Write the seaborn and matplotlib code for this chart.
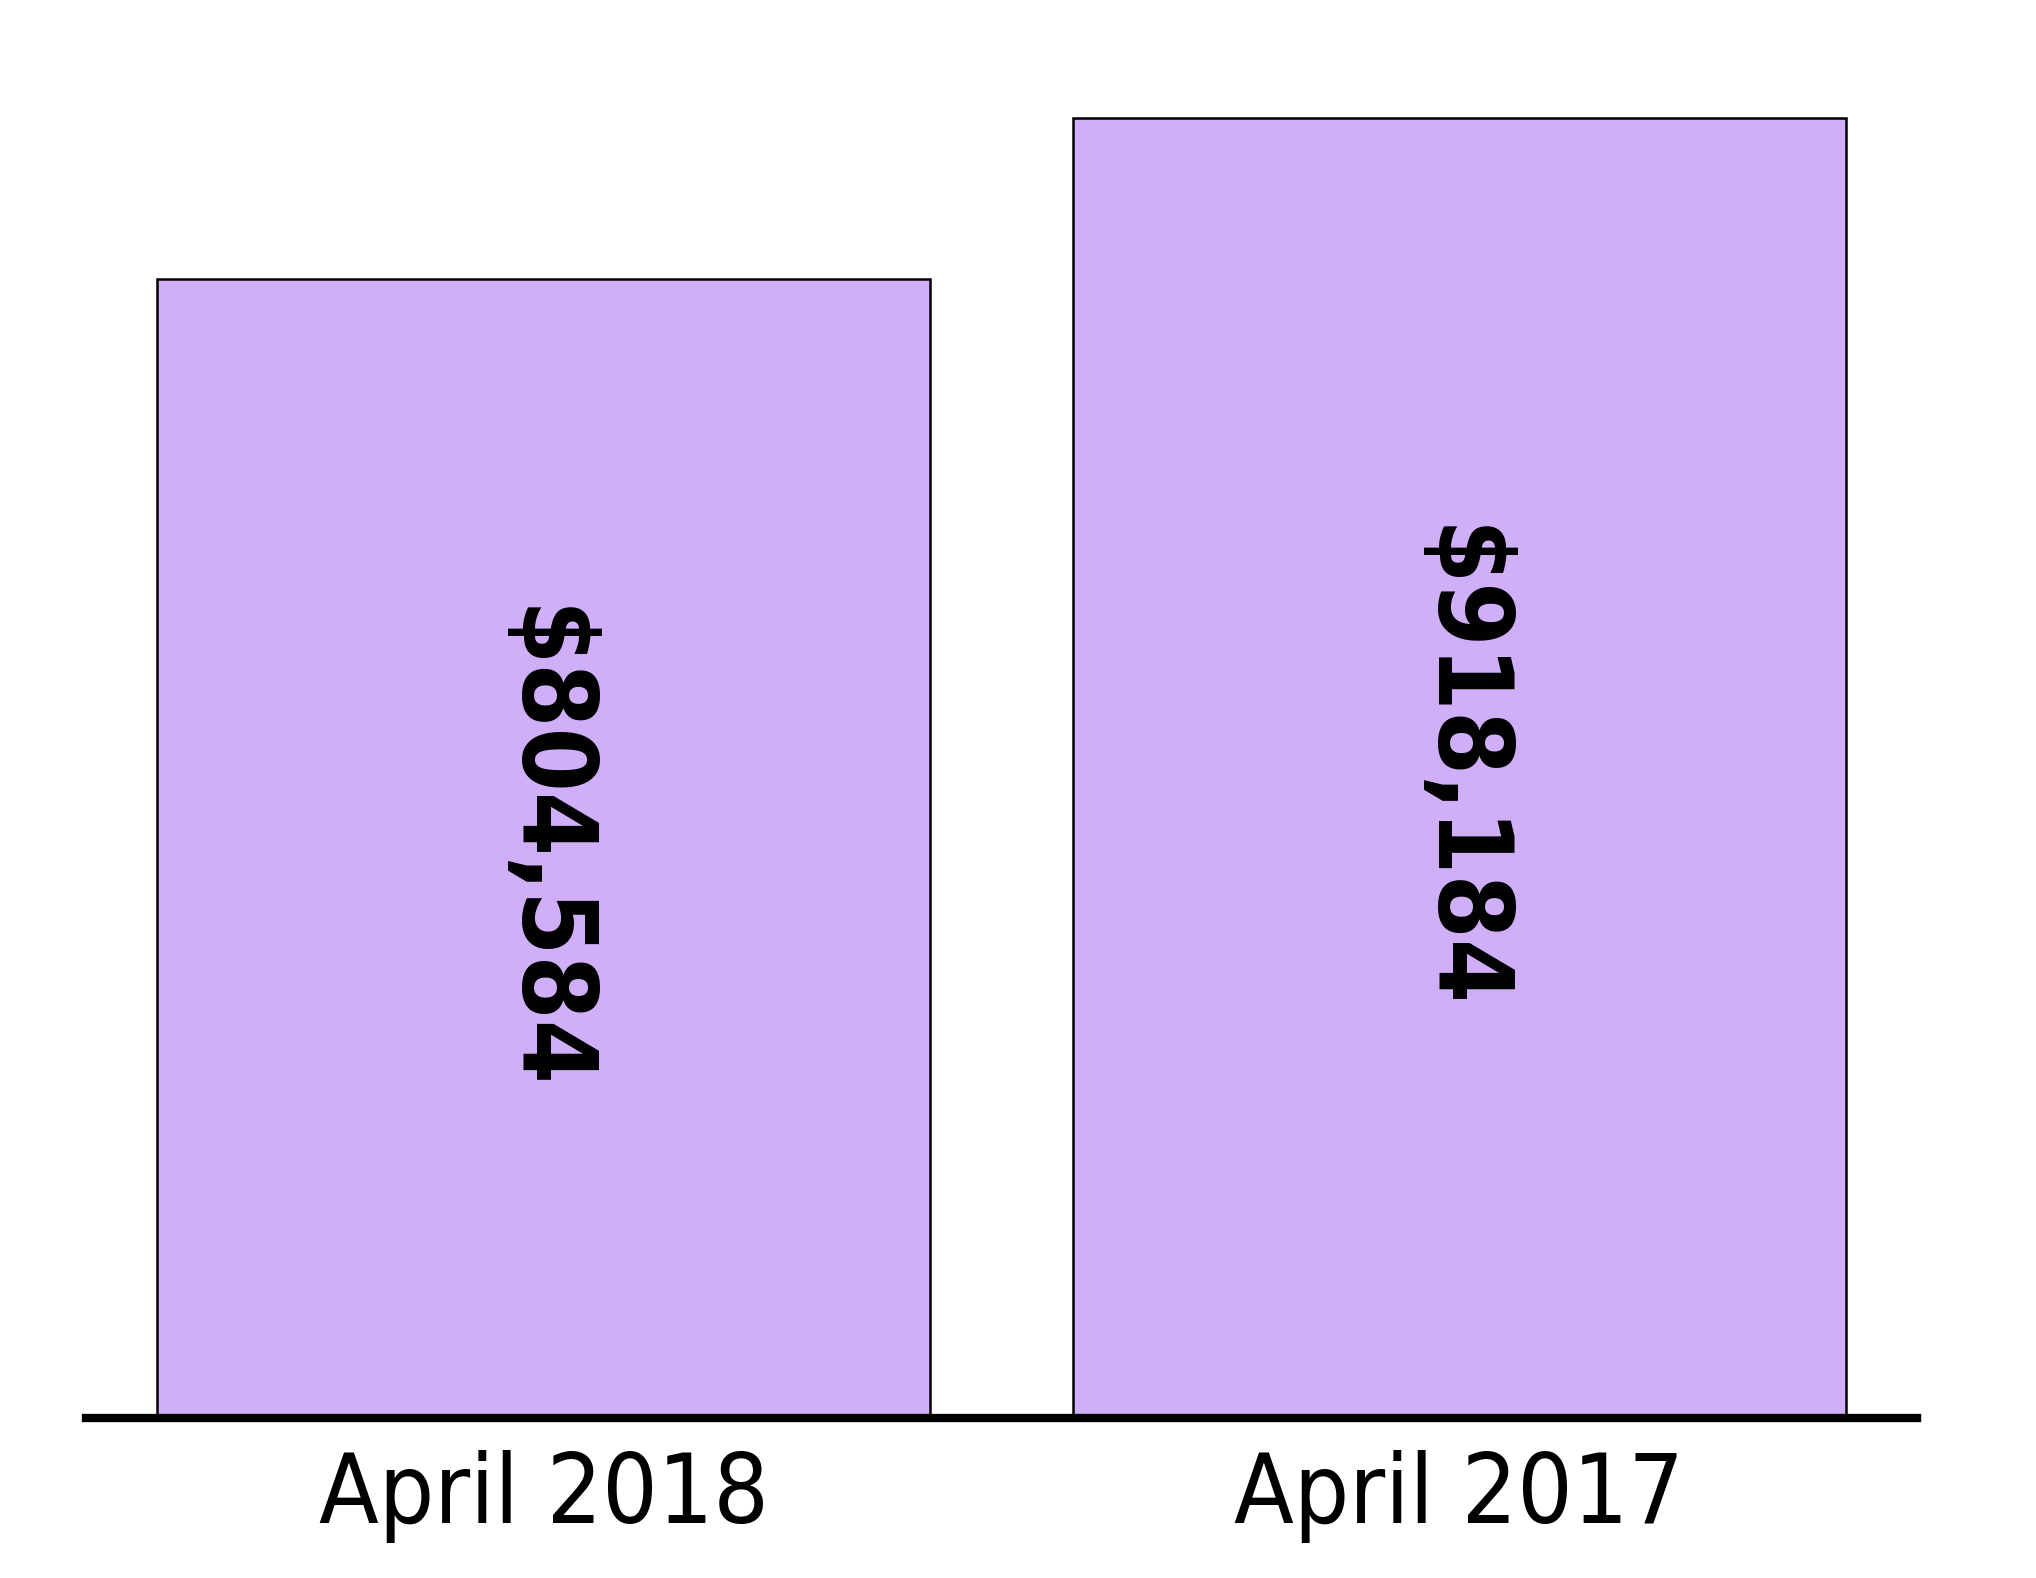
import matplotlib
matplotlib.use('Agg')
import matplotlib.pyplot as plt
import pandas as pd
import seaborn as sns

# Data
months = ['April 2018', 'April 2017']
revenue = [804584, 918184]
value_labels = ['$804,584', '$918,184']

df = pd.DataFrame({'Month': months, 'Revenue': revenue})

sns.set_style('white')

fig = plt.figure(figsize=(20.36, 15.78), dpi=100)
ax = fig.add_axes([0.0422, 0.1014, 0.8994, 0.865])

sns.barplot(data=df, x='Month', y='Revenue', order=months, color='#cfaff8',
            saturation=1, width=0.844, edgecolor='black', linewidth=1.8, ax=ax)

# Value labels, rotated, in the middle of each bar
for i, (v, lab) in enumerate(zip(revenue, value_labels)):
    ax.text(i, v / 2, lab, rotation=270, ha='center', va='center',
            fontsize=74, fontweight='bold', family='DejaVu Sans',
            fontstretch='condensed', color='black')

ax.set_xlim(-0.5, 1.5)
ax.set_ylim(0, max(revenue) * 1.05)
ax.set_xlabel('')
ax.set_ylabel('')
ax.set_yticks([])

for side in ['top', 'right', 'left']:
    ax.spines[side].set_visible(False)
ax.spines['bottom'].set_linewidth(6)
ax.spines['bottom'].set_color('black')

ax.tick_params(axis='x', length=0, pad=23, colors='black')
for t in ax.get_xticklabels():
    t.set_fontsize(70)
    t.set_family('DejaVu Sans')
    t.set_stretch('condensed')

fig.savefig('out.png', dpi=100, facecolor='white')
